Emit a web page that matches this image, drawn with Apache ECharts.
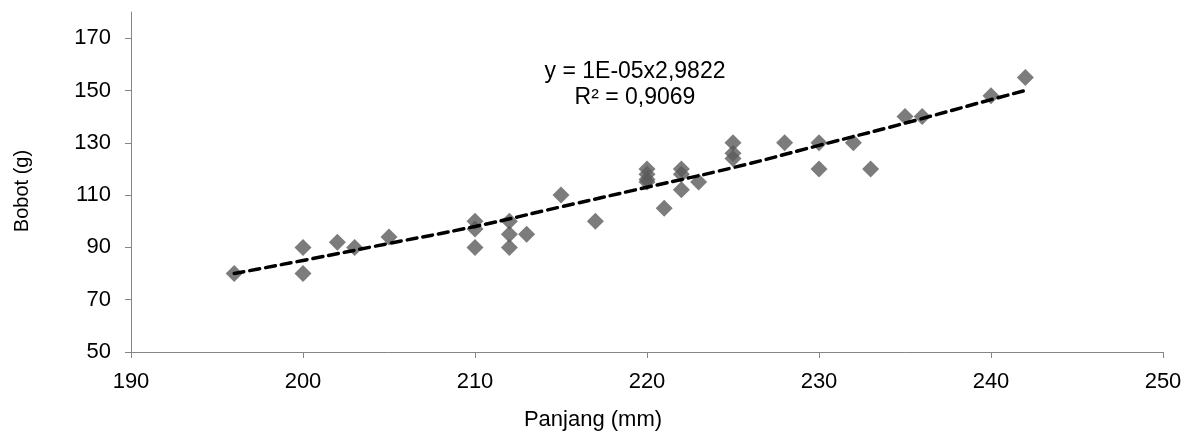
<!DOCTYPE html>
<html lang="id">
<head>
<meta charset="utf-8">
<title>Panjang vs Bobot</title>
<script src="https://cdn.jsdelivr.net/npm/echarts@6/dist/echarts.min.js"></script>
<style>
  html, body { margin:0; padding:0; background:#fff; }
  #chart { width:1190px; height:434px; }
</style>
</head>
<body>
<div id="chart"></div>
<script>
// data titik (panjang mm, bobot g)
var panjang = [196, 200, 200, 202, 203, 205, 210, 210, 210, 212, 212, 212, 213, 215, 217,
               220, 220, 220, 220, 221, 222, 222, 222, 223, 225, 225, 225, 228, 230, 230,
               232, 233, 235, 236, 240, 242];
var bobot   = [80, 90, 80, 92, 90, 94, 100, 97, 90, 100, 95, 90, 95, 110, 100,
               120, 118, 116, 115, 105, 120, 118, 112, 115, 130, 126, 124, 130, 130, 120,
               130, 120, 140, 140, 148, 155];

// garis tren (power) dibaca dari garis putus-putus
var trenX = [196, 200, 205, 210, 215, 220, 225, 230, 235, 240, 242];
var trenY = [80, 85, 91.5, 98, 105.5, 113, 120.5, 129, 137.5, 146.5, 150];

var xTicks = [190, 200, 210, 220, 230, 240, 250];
var yTicks = [50, 70, 90, 110, 130, 150, 170];

var points = [];
for (var i = 0; i < panjang.length; i++) points.push([panjang[i], bobot[i]]);
var trend = [];
for (var j = 0; j < trenX.length; j++) trend.push([trenX[j], trenY[j]]);

var FONT = 'Liberation Sans, Arial, sans-serif';
var chart = echarts.init(document.getElementById('chart'));
chart.setOption({
  animation: false,
  grid: { left: 131, right: 27, top: 12, bottom: 82 },
  xAxis: {
    type: 'value', min: 190, max: 250, interval: 10,
    axisLine: { lineStyle: { color: '#868686', width: 1 } },
    axisTick: { show: true, length: 6, lineStyle: { color: '#868686' }, customValues: xTicks },
    axisLabel: { fontFamily: FONT, fontSize: 22, color: '#000', margin: 19, customValues: xTicks },
    splitLine: { show: false }
  },
  yAxis: {
    type: 'value', min: 50, max: 180, interval: 20,
    axisLine: { show: true, lineStyle: { color: '#868686', width: 1 } },
    axisTick: { show: true, length: 6, lineStyle: { color: '#868686' }, customValues: yTicks },
    axisLabel: { fontFamily: FONT, fontSize: 22, color: '#000', margin: 20, customValues: yTicks },
    splitLine: { show: false }
  },
  series: [
    {
      type: 'scatter',
      symbol: 'diamond',
      symbolSize: 17,
      itemStyle: { color: '#5b5b5b' },
      data: points,
      z: 2
    },
    {
      type: 'line',
      data: trend,
      smooth: true,
      symbol: 'none',
      lineStyle: { color: '#000', width: 3.5, type: [10, 6], cap: 'round' },
      z: 3
    }
  ],
  graphic: [
    { type: 'text', style: { text: 'y = 1E-05x2,9822', font: '23px ' + FONT, fill: '#000', x: 635, y: 72, align: 'center', verticalAlign: 'middle' } },
    { type: 'text', style: { text: 'R² = 0,9069', font: '23px ' + FONT, fill: '#000', x: 635, y: 98, align: 'center', verticalAlign: 'middle' } },
    { type: 'text', style: { text: 'Panjang (mm)', font: '22px ' + FONT, fill: '#000', x: 593, y: 420, align: 'center', verticalAlign: 'middle' } },
    { type: 'text', x: 22, y: 191, rotation: Math.PI / 2, style: { text: 'Bobot (g)', font: '20px ' + FONT, fill: '#000', x: 0, y: 0, align: 'center', verticalAlign: 'middle' } }
  ]
});
</script>
</body>
</html>
